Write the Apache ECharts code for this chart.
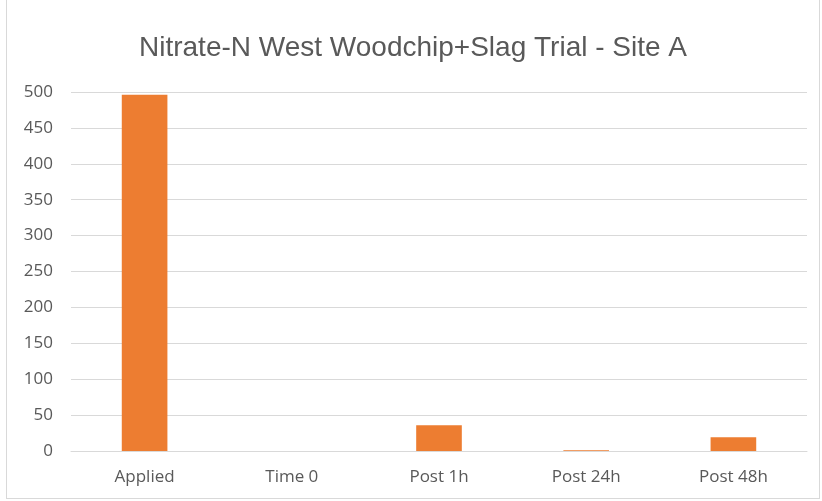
<!DOCTYPE html>
<html lang="en">
<head>
    <meta charset="UTF-8">
    <title>Nitrate-N West Woodchip+Slag Trial - Site A</title>
    <script src="https://cdn.jsdelivr.net/npm/echarts@6/dist/echarts.min.js"></script>
    <style>
        html, body { margin: 0; padding: 0; background: #fff; }
        #main { position: absolute; left: 6px; top: 0; width: 814px; height: 499px;
                border: 1px solid #d9d9d9; border-top: none; box-sizing: border-box; }
    </style>
</head>
<body>
<div id="main"></div>
<script>
    // data
    var categories = ['Applied', 'Time 0', 'Post 1h', 'Post 24h', 'Post 48h'];
    var nitrateN = [496, 0, 36, 1, 19];
    var yTicks = [0, 50, 100, 150, 200, 250, 300, 350, 400, 450, 500];

    var myChart = echarts.init(document.getElementById('main'));

    var option = {
        backgroundColor: '#fff',
        animation: false,
        title: {
            text: 'Nitrate-N West Woodchip+Slag Trial - Site A',
            left: 'center',
            top: 29,
            textStyle: {
                fontFamily: 'Liberation Sans',
                fontSize: 28,
                fontWeight: 'normal',
                color: '#595959'
            }
        },
        grid: {
            left: 64,
            right: 12,
            top: 92,
            bottom: 47
        },
        xAxis: {
            type: 'category',
            data: categories,
            axisLine: { lineStyle: { color: '#d9d9d9', width: 1 } },
            axisTick: { show: false },
            axisLabel: {
                margin: 18,
                fontFamily: 'Open Sans',
                fontSize: 17,
                color: '#595959'
            }
        },
        yAxis: {
            type: 'value',
            min: yTicks[0],
            max: yTicks[yTicks.length - 1],
            interval: 50,
            axisLine: { show: false },
            axisTick: { show: false },
            splitLine: { lineStyle: { color: '#d9d9d9', width: 1 } },
            axisLabel: {
                margin: 18,
                fontFamily: 'Open Sans',
                fontSize: 17,
                color: '#595959'
            }
        },
        series: [
            {
                name: 'Nitrate-N',
                type: 'bar',
                data: nitrateN,
                barWidth: '31%',
                itemStyle: { color: '#ed7d31' }
            }
        ]
    };

    myChart.setOption(option);
</script>
</body>
</html>
